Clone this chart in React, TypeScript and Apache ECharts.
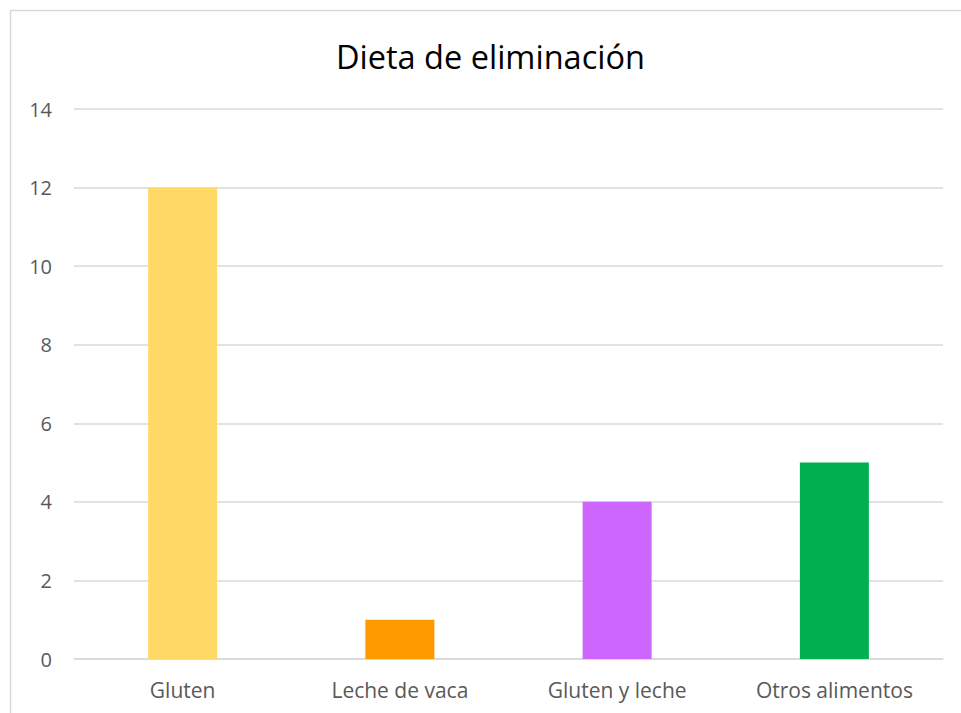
import React, { useEffect, useRef } from "react";
import * as echarts from "echarts";

const categories = ["Gluten", "Leche de vaca", "Gluten y leche", "Otros alimentos"];
const values = [12, 1, 4, 5];
const barColors = ["#FFD966", "#FF9900", "#CC66FF", "#00B050"];
const titleText = "Dieta de eliminación";

export default function App() {
  const ref = useRef<HTMLDivElement>(null);
  useEffect(() => {
    if (!ref.current) return;
    const chart = echarts.init(ref.current, null, { renderer: "svg" });
    chart.setOption({
      animation: false,
      backgroundColor: "#ffffff",
      title: {
        text: titleText,
        left: 331,
        top: 35,
        textStyle: {
          fontFamily: "Open Sans",
          fontSize: 32.5,
          fontWeight: "normal",
          color: "#000000",
        },
      },
      graphic: [
        {
          type: "rect",
          shape: { x: 10.5, y: 10.5, width: 1000, height: 800 },
          style: { fill: "none", stroke: "#d9d9d9", lineWidth: 1.5 },
          silent: true,
        },
      ],
      grid: { left: 74, right: 18, top: 109, bottom: 54, containLabel: false },
      xAxis: {
        type: "category",
        data: categories,
        axisLine: { show: true, lineStyle: { color: "#d9d9d9", width: 1.5 } },
        axisTick: { show: false },
        axisLabel: {
          color: "#595959",
          fontFamily: "Open Sans",
          fontSize: 21,
          margin: 20,
        },
      },
      yAxis: {
        type: "value",
        min: 0,
        max: 14,
        interval: 2,
        axisLine: { show: false },
        axisTick: { show: false },
        splitLine: { lineStyle: { color: "#d9d9d9", width: 1.5 } },
        axisLabel: {
          color: "#595959",
          fontFamily: "Open Sans",
          fontSize: 20,
          margin: 22,
        },
      },
      series: [
        {
          type: "bar",
          barWidth: 69,
          data: values.map((v, i) => ({ value: v, itemStyle: { color: barColors[i] } })),
        },
      ],
    });
    return () => chart.dispose();
  }, []);
  return (
    <div
      ref={ref}
      style={{ position: "fixed", left: 0, top: 0, width: 961, height: 713 }}
    />
  );
}
